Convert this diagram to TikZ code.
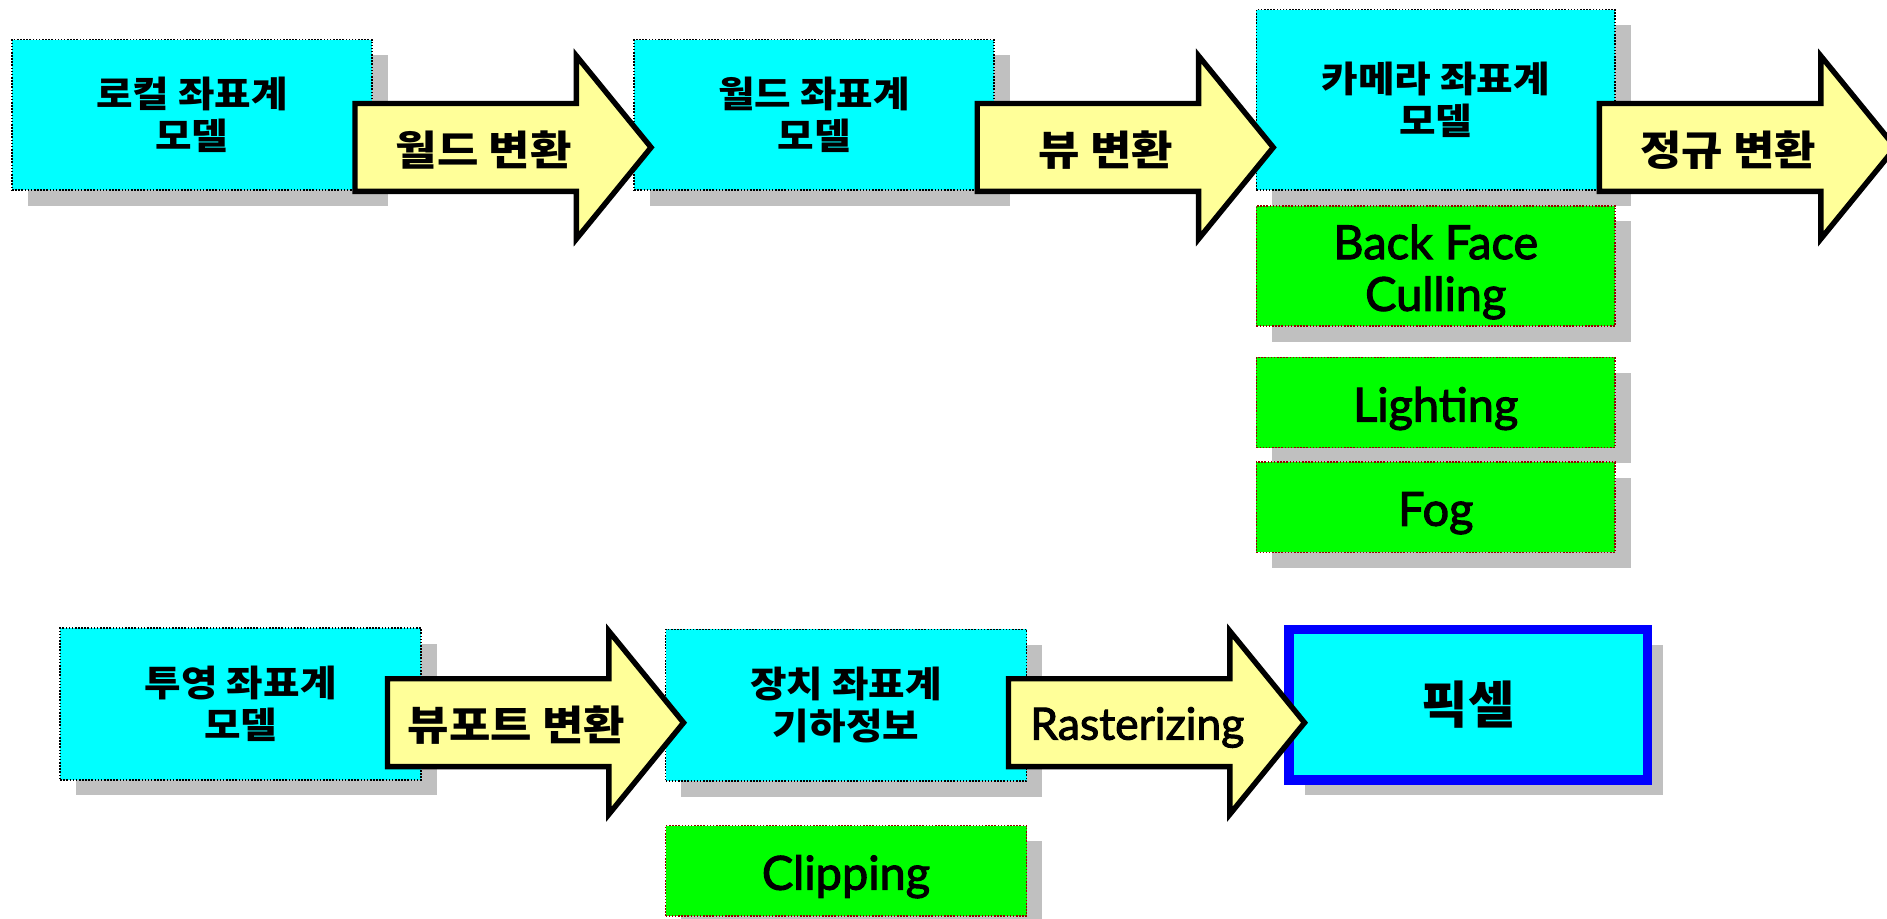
\documentclass[tikz,border=0pt]{standalone}
\usepackage{fontspec}
\newfontfamily\korfont{Noto Sans CJK KR}[FakeStretch=1.1]
\newfontfamily\korplain{Noto Sans CJK KR}
\newfontfamily\latinfont{Lato}[FakeBold=2.2]
\usetikzlibrary{shadows}
\definecolor{cyanbox}{HTML}{00FFFF}
\definecolor{greenbox}{HTML}{00FF00}
\definecolor{arrowfill}{HTML}{FFFF99}
\definecolor{shadowgray}{HTML}{C0C0C0}
\definecolor{dotred}{HTML}{990000}
\definecolor{pixblue}{HTML}{0000FF}
\newcommand{\lowr}[1]{\raisebox{-5pt}[\height][\depth]{#1}}
\tikzset{
 sh/.style={drop shadow={shadow xshift=13pt, shadow yshift=-13pt, fill=shadowgray, opacity=1}},
 box/.style={rectangle, anchor=north west, inner sep=0pt, outer sep=0pt, align=center, sh},
 stage/.style={box, fill=cyanbox, draw=black, line width=1.3pt, dash pattern=on 1.3pt off 1.3pt, font=\korfont\bfseries\fontsize{30}{35}\selectfont},
 op/.style={box, fill=greenbox, draw=dotred, line width=1.3pt, dash pattern=on 1.3pt off 1.3pt, font=\latinfont\fontsize{39}{43}\selectfont},
 pixbox/.style={box, fill=cyanbox, draw=pixblue, line width=8pt, font=\korplain\bfseries\fontsize{42}{48}\selectfont},
 blockarrow/.style={fill=arrowfill, draw=black, line width=4.5pt, line join=miter},
 arrowtext/.style={inner sep=0pt, font=\korfont\bfseries\fontsize{34}{38}\selectfont},
 arrowtextlat/.style={inner sep=0pt, font=\latinfont\fontsize{37}{40}\selectfont},
}
\newcommand{\blockarr}[5]{%
  \draw[blockarrow] (#2,#3-36.5) -- (#2+184,#3-36.5) -- (#2+184,#3-76) -- (#2+246,#3) -- (#2+184,#3+76) -- (#2+184,#3+36.5) -- (#2,#3+36.5) -- cycle;
  \node[#5] (#1) at (#2+107,#3+2) {#4};
}
\begin{document}
\begin{tikzpicture}[x=1pt,y=-1pt]
\useasboundingbox (0,0) rectangle (1568,763);
% row 1
\node[stage, minimum width=299pt, minimum height=125pt] (local) at (10,33) {로컬 좌표계\\모델};
\node[stage, minimum width=299pt, minimum height=125pt] (world) at (527,33) {월드 좌표계\\모델};
\node[stage, minimum width=298pt, minimum height=150pt] (camera) at (1044,8) {카메라 좌표계\\모델};
\node[op, minimum width=298pt, minimum height=100pt] (culling) at (1044,171) {\lowr{Back Face}\\\lowr{Culling}};
\node[op, minimum width=298pt, minimum height=75pt] (lighting) at (1044,297) {\lowr{Lighting}};
\node[op, minimum width=298pt, minimum height=75pt] (fog) at (1044,384) {\lowr{Fog}};
% row 2
\node[stage, minimum width=300pt, minimum height=126pt] (proj) at (50,522) {투영 좌표계\\모델};
\node[stage, minimum width=300pt, minimum height=126pt] (device) at (553,523) {장치 좌표계\\기하정보};
\node[op, minimum width=300pt, minimum height=75pt] (clipping) at (553,686) {\lowr{Clipping}};
\node[pixbox, minimum width=298pt, minimum height=125pt] (pixel) at (1071,523) {픽셀};
% arrows
\blockarr{worldtf}{295}{122.5}{월드 변환}{arrowtext}
\blockarr{viewtf}{812}{122.5}{뷰 변환}{arrowtext}
\blockarr{normtf}{1329}{122.5}{정규 변환}{arrowtext}
\blockarr{viewporttf}{322}{600.5}{뷰포트 변환}{arrowtext}
\blockarr{raster}{838}{600.5}{\raisebox{-2pt}[\height][\depth]{Rasterizing}}{arrowtextlat}
\end{tikzpicture}
\end{document}
